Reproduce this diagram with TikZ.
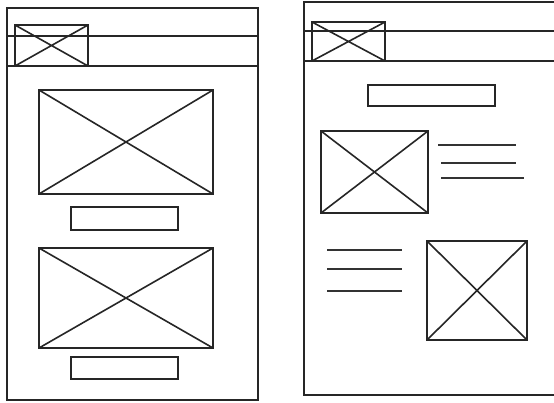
\documentclass[tikz,border=0pt]{standalone}
\begin{document}
\begin{tikzpicture}[x=1pt,y=-1pt,
  wire/.style={draw=black!85,line width=1.6pt},
  thin/.style={draw=black!80,line width=1.5pt}]
\useasboundingbox[fill=white] (0,0) rectangle (554,402);
\clip (0,0) rectangle (554,402);
% left page
\draw[wire] (7,8) rectangle (258,400);
\draw[wire] (7,36) rectangle (258,66);
\draw[wire] (15,25) rectangle (88,66) (15,25) -- (88,66) (15,66) -- (88,25);
\draw[wire] (39,90) rectangle (213,194) (39,90) -- (213,194) (39,194) -- (213,90);
\draw[wire] (71,207) rectangle (178,230);
\draw[wire] (39,248) rectangle (213,348) (39,248) -- (213,348) (39,348) -- (213,248);
\draw[wire] (71,357) rectangle (178,379);
% right page
\draw[wire] (560,2) -- (304,2) -- (304,395) -- (560,395);
\draw[wire] (304,31) -- (560,31) (304,61) -- (560,61);
\draw[wire] (312,22) rectangle (385,61) (312,22) -- (385,61) (312,61) -- (385,22);
\draw[wire] (368,85) rectangle (495,106);
\draw[wire] (321,131) rectangle (428,213) (321,131) -- (428,213) (321,213) -- (428,131);
\draw[thin] (438,145) -- (516,145) (441,163) -- (516,163) (441,178) -- (524,178);
\draw[thin] (327,250) -- (402,250) (327,269) -- (402,269) (327,291) -- (402,291);
\draw[wire] (427,241) rectangle (527,340) (427,241) -- (527,340) (427,340) -- (527,241);
\end{tikzpicture}
\end{document}
